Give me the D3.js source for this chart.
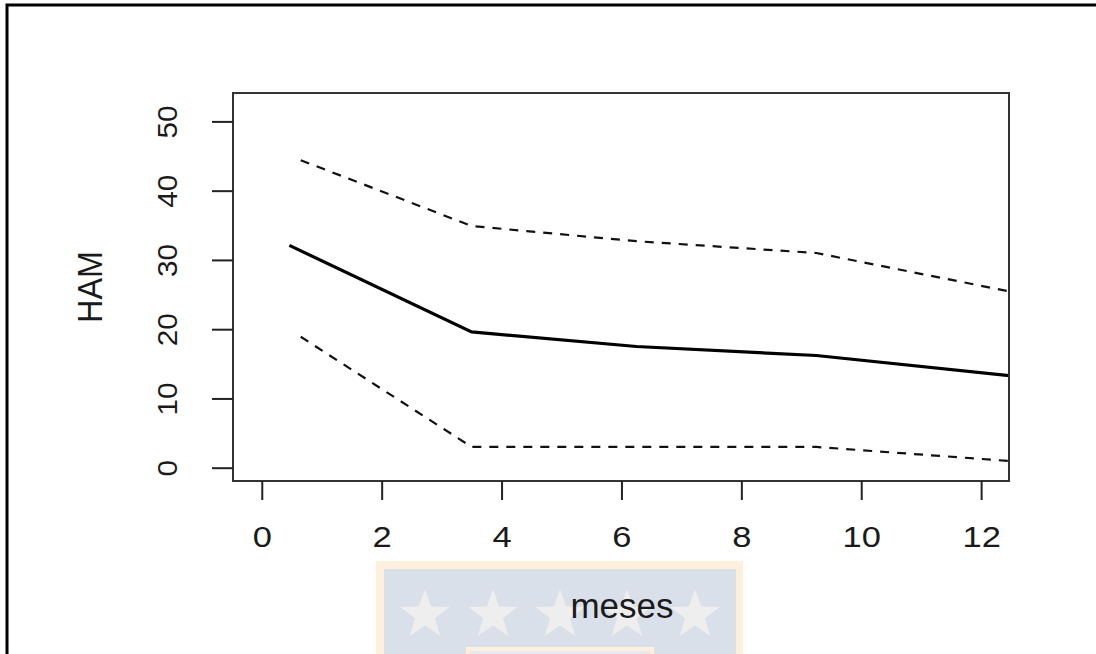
<!DOCTYPE html>
<html>
<head>
<meta charset="utf-8">
<script src="https://cdn.jsdelivr.net/npm/d3@7"></script>
<style>
  html, body { margin: 0; background: #fff; overflow: hidden; }
  svg { display: block; }
  text { font-family: "Liberation Sans", Arial, Helvetica, sans-serif; fill: #1a1a1a; }
</style>
</head>
<body>
<div id="chart"></div>
<script>
// valores
var mesesMedia = [0.46, 3.5, 6.25, 9.25, 12.5],
    hamMedia = [32.1, 19.6, 17.5, 16.2, 13.25];
var mesesIC = [0.65, 3.5, 6.25, 9.25, 12.5],
    icSup = [44.4, 34.9, 32.7, 31.0, 25.4],
    icInf = [18.9, 3.0, 3.0, 3.0, 0.95];
var xTicks = [0, 2, 4, 6, 8, 10, 12],
    yTicks = [0, 10, 20, 30, 40, 50];

var width = 1096,
    height = 654,
    boxLeft = 233, boxRight = 1009, boxTop = 93, boxBottom = 481;

var svg = d3.select("#chart").append("svg")
  .attr("width", width)
  .attr("height", height);

// marco exterior (solo arriba e izquierda se ven)
svg.append("path")
  .attr("d", "M7," + (height + 5) + "V5H" + (width + 5))
  .attr("fill", "none")
  .attr("stroke", "#000")
  .attr("stroke-width", 3);

// marca de agua
var wm = svg.append("g");
wm.append("rect").attr("x", 376).attr("y", 561).attr("width", 367).attr("height", 100).attr("fill", "#fdf0dc");
wm.append("rect").attr("x", 384).attr("y", 569).attr("width", 352).attr("height", 100).attr("fill", "#d9e0e9");
wm.append("rect").attr("x", 466).attr("y", 647).attr("width", 188).attr("height", 20).attr("fill", "#fdf0dc");
wm.append("rect").attr("x", 470).attr("y", 651).attr("width", 180).attr("height", 20).attr("fill", "#e6e9ee");
var star = function (cx, cy, r) {
  var pts = [];
  for (var i = 0; i < 10; i++) {
    var a = -Math.PI / 2 + i * Math.PI / 5,
        rr = i % 2 ? r * 0.4 : r;
    pts.push([cx + rr * Math.cos(a), cy + rr * Math.sin(a)]);
  }
  return "M" + pts.join("L") + "Z";
};
[425, 493, 560, 627, 695].forEach(function (cx) {
  wm.append("path").attr("d", star(cx, 615, 26)).attr("fill", "#eeeeee");
});

var x = d3.scaleLinear().domain([-0.48, 12.465]).range([boxLeft, boxRight]);
var y = d3.scaleLinear().domain([-1.92, 54.1]).range([boxBottom, boxTop]);

svg.append("clipPath").attr("id", "clip")
  .append("rect")
  .attr("x", boxLeft).attr("y", boxTop)
  .attr("width", boxRight - boxLeft).attr("height", boxBottom - boxTop);

var line = d3.line()
  .x(function (d) { return x(d[0]); })
  .y(function (d) { return y(d[1]); });

var lines = svg.append("g").attr("clip-path", "url(#clip)");

[icSup, icInf].forEach(function (serie) {
  lines.append("path")
    .datum(d3.zip(mesesIC, serie))
    .attr("d", line)
    .attr("fill", "none")
    .attr("stroke", "#111")
    .attr("stroke-width", 2.2)
    .attr("stroke-dasharray", "9,8");
});

lines.append("path")
  .datum(d3.zip(mesesMedia, hamMedia))
  .attr("d", line)
  .attr("fill", "none")
  .attr("stroke", "#000")
  .attr("stroke-width", 3.2);

// caja
svg.append("rect")
  .attr("x", boxLeft).attr("y", boxTop)
  .attr("width", boxRight - boxLeft).attr("height", boxBottom - boxTop)
  .attr("fill", "none")
  .attr("stroke", "#333")
  .attr("stroke-width", 2);

// ejes
var xAxis = svg.append("g")
  .attr("transform", "translate(0," + boxBottom + ")")
  .call(d3.axisBottom(x).tickValues(xTicks).tickSize(19));
var yAxis = svg.append("g")
  .attr("transform", "translate(" + boxLeft + ",0)")
  .call(d3.axisLeft(y).tickValues(yTicks).tickSize(21));

[xAxis, yAxis].forEach(function (a) {
  a.select(".domain").remove();
  a.selectAll(".tick line").attr("stroke", "#222").attr("stroke-width", 2);
  a.selectAll(".tick text")
    .attr("fill", "#1a1a1a")
    .attr("x", 0).attr("y", 0).attr("dy", null)
    .attr("text-anchor", "middle")
    .style("font-family", '"Liberation Sans", Arial, sans-serif');
});

xAxis.selectAll(".tick text")
  .style("font-size", "30px")
  .attr("transform", "translate(0,66) scale(1.15,1)");

yAxis.selectAll(".tick text")
  .style("font-size", "27px")
  .attr("transform", "translate(-56,0) rotate(-90) scale(1.1,1)");

// titulos
svg.append("text")
  .attr("transform", "translate(101.5,287) rotate(-90) scale(0.9,1)")
  .attr("text-anchor", "middle")
  .style("font-size", "36px")
  .text("HAM");

svg.append("text")
  .attr("x", 622).attr("y", 618)
  .attr("text-anchor", "middle")
  .style("font-size", "35px")
  .text("meses");
</script>
</body>
</html>
